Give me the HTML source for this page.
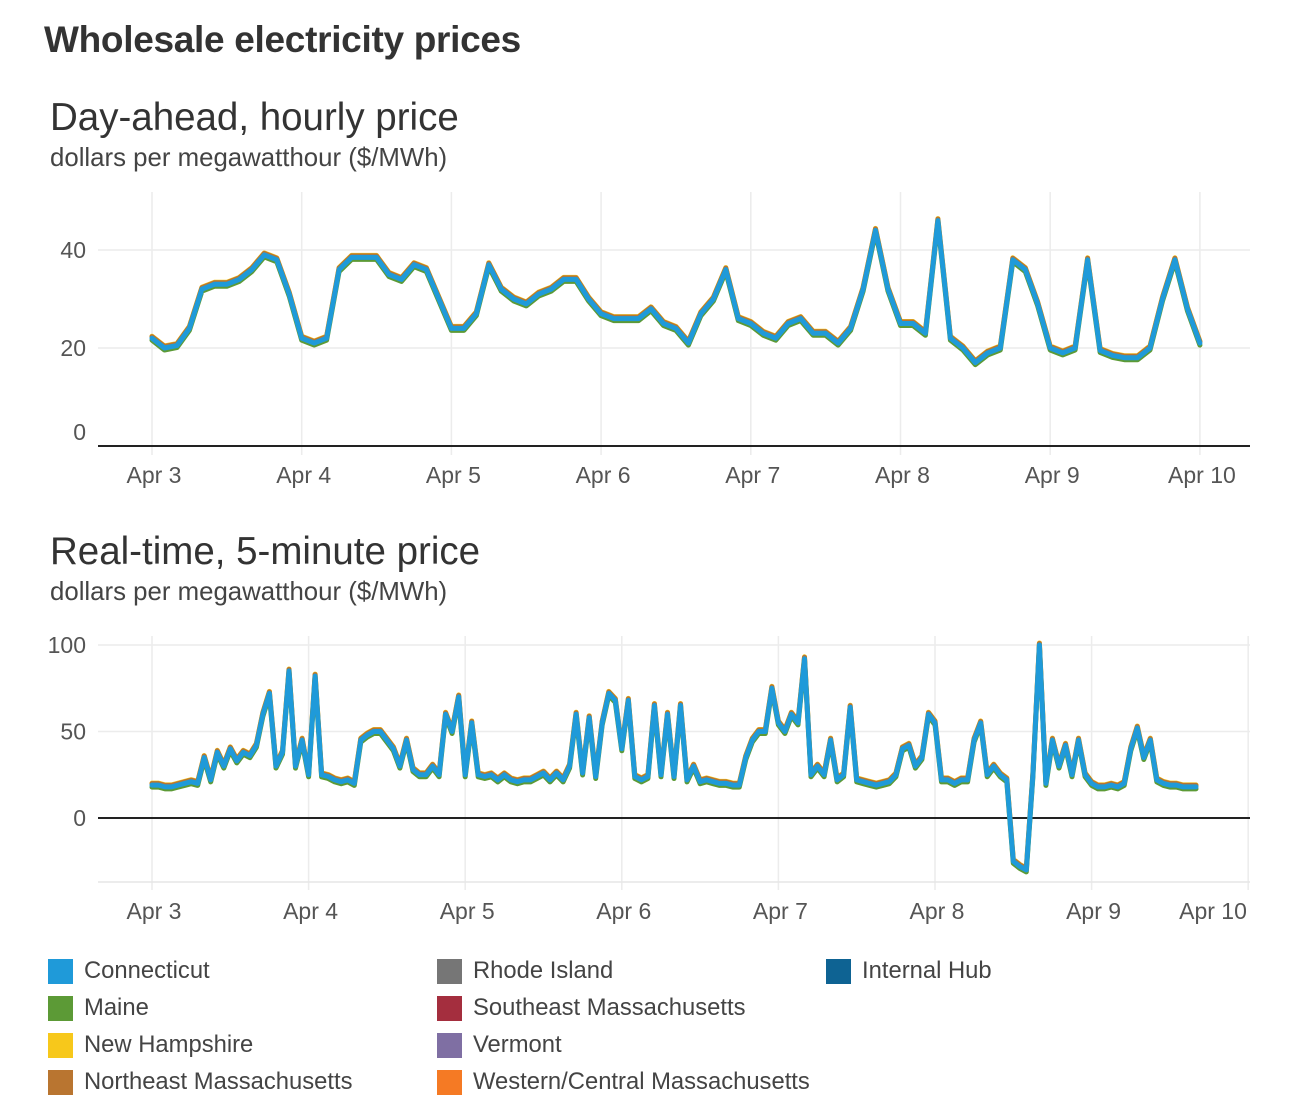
<!DOCTYPE html>
<html><head><meta charset="utf-8">
<style>
body{margin:0;background:#fff;font-family:"Liberation Sans",sans-serif;color:#333;}
#wrap{position:relative;width:1292px;height:1120px;overflow:hidden;}
.t{position:absolute;white-space:nowrap;}
</style></head>
<body>
<div id="wrap">
<div class="t" style="left:44px;top:19px;font-size:37px;font-weight:bold;color:#333;letter-spacing:-0.3px">Wholesale electricity prices</div>
<div class="t" style="left:50px;top:96px;font-size:38.5px;color:#333">Day-ahead, hourly price</div>
<div class="t" style="left:50px;top:144px;font-size:25.8px;color:#444">dollars per megawatthour ($/MWh)</div>
<div class="t" style="left:50px;top:530px;font-size:38.5px;color:#333">Real-time, 5-minute price</div>
<div class="t" style="left:50px;top:578px;font-size:25.8px;color:#444">dollars per megawatthour ($/MWh)</div>
<svg id="chart" width="1292" height="1120" style="position:absolute;left:0;top:0"></svg>
<div id="legend"></div>
</div>
<script>
// Day-ahead hourly (2-hour steps, Apr 3 00:00 .. Apr 10 00:00)
const daTicks = ["Apr 3","Apr 4","Apr 5","Apr 6","Apr 7","Apr 8","Apr 9","Apr 10"];
const daYTicks = [0,20,40];
const daCT = [22,20,20.5,24,32,33,33,34,36,39,38,31,
22,21,22,36,38.5,38.5,38.5,35,34,37,36,30,
24,24,27,37,32,30,29,31,32,34,34,30,
27,26,26,26,28,25,24,21,27,30,36,26,
25,23,22,25,26,23,23,21,24,32,44,32,
25,25,23,46,22,20,17,19,20,38,36,29,
20,19,20,38,19.5,18.5,18,18,20,30,38,28,
21];
// Real-time (hourly samples, Apr 3 00:00 .. Apr 9 16:00)
const rtTicks = ["Apr 3","Apr 4","Apr 5","Apr 6","Apr 7","Apr 8","Apr 9","Apr 10"];
const rtYTicks = [0,50,100];
const rtCT = [19,19,18,18,19,20,21,20,35,22,38,30,40,33,38,36,42,60,72,30,38,85,30,45,
25,82,25,24,22,21,22,20,45,48,50,50,45,40,30,45,28,25,25,30,25,60,50,70,
25,55,25,24,25,22,25,22,21,22,22,24,26,22,26,22,30,60,26,58,24,55,72,68,
40,68,24,22,24,65,25,60,24,65,22,30,21,22,21,20,20,19,19,35,45,50,50,75,
55,50,60,55,92,25,30,25,45,22,25,64,22,21,20,19,20,21,25,40,42,30,35,60,
55,22,22,20,22,22,45,55,25,30,25,22,-25,-28,-30,25,100,20,45,30,42,25,45,25,
20,18,18,19,18,20,40,52,35,45,22,20,19,19,18,18,18];
const legendNames = ["Connecticut","Maine","New Hampshire","Northeast Massachusetts","Rhode Island","Southeast Massachusetts","Vermont","Western/Central Massachusetts","Internal Hub"];
const legendColors = ["#1f9ad9","#5c9a36","#f7c81b","#b97530","#767676","#a42e3e","#7f6fa3","#f57a24","#0e6393"];

const NS="http://www.w3.org/2000/svg";
const svg=document.getElementById('chart');
function mk(tag,attrs,parent){const e=document.createElementNS(NS,tag);for(const k in attrs)e.setAttribute(k,attrs[k]);(parent||svg).appendChild(e);return e;}

function drawChart(cfg){
  const g=mk('g',{});
  
  
  const x=d=>cfg.x0+d*cfg.dayW;
  const y=v=>cfg.yZero-v*cfg.yScale;
  cfg.ticks.forEach((lab,i)=>{
    const l=mk('line',{x1:x(i),x2:x(i),y1:cfg.gTop,y2:cfg.gBot,stroke:'#ececec','stroke-width':1.5},g);
    
    
    const lx = (i===cfg.ticks.length-1 && cfg.lastLabX) ? cfg.lastLabX : x(i)+2;
    const t=mk('text',{x:lx,y:cfg.labY,'text-anchor':'middle','font-size':23,fill:'#555','font-family':'Liberation Sans, sans-serif'},g);
    t.textContent=lab;
    
    
  });
  cfg.yTicks.forEach(v=>{
    if(v!==0){
      const l=mk('line',{x1:98,x2:1250,y1:y(v),y2:y(v),stroke:'#ececec','stroke-width':1.5},g);
      
      
    }
    const t=mk('text',{x:86,y:y(v)+(v===0?cfg.zeroLabOff:8),'text-anchor':'end','font-size':23,fill:'#555','font-family':'Liberation Sans, sans-serif'},g);
    t.textContent=String(v);
    
    
  });
  if(cfg.bottomLine){
    const b=mk('line',{x1:98,x2:1250,y1:cfg.bottomLine,y2:cfg.bottomLine,stroke:'#e6e6e6','stroke-width':1.5},g);
    
    
  }
  const z=mk('line',{x1:98,x2:1250,y1:y(0),y2:y(0),stroke:'#222','stroke-width':2},g);
  
  
  const step=cfg.step;
  const pts=(off)=>cfg.data.map((v,i)=>x(i*step).toFixed(1)+','+(y(v)+off).toFixed(1)).join(' ');
  const layers=[['#f7c81b',-2],['#b97530',-1.5],['#5c9a36',2],['#1f9ad9',0]];
  const names=['series-new-hampshire','series-northeast-massachusetts','series-maine','series-connecticut'];
  layers.forEach((ly,k)=>{
    const p=mk('polyline',{points:pts(ly[1]),fill:'none',stroke:ly[0],'stroke-width':5,'stroke-linejoin':'round','stroke-linecap':'round'},g);
    
    
  });
}
drawChart({name:'day-ahead-chart',x0:152,dayW:149.7,yZero:446,yScale:4.9,gTop:192,gBot:455,labY:483,ticks:daTicks,yTicks:daYTicks,data:daCT,step:1/12,zeroLabOff:-6});
drawChart({name:'real-time-chart',x0:152,dayW:156.6,yZero:818,yScale:1.73,gTop:636,gBot:890,labY:919,ticks:rtTicks,yTicks:rtYTicks,data:rtCT,step:1/24,bottomLine:882,zeroLabOff:8,lastLabX:1213});

const leg=document.getElementById('legend');
legendNames.forEach((n,i)=>{
  const col=Math.floor(i/4), row=i%4;
  const d=document.createElement('div');
  d.className='t';
  d.style.left=(48+col*389)+'px';
  d.style.top=(957+row*37)+'px';
  d.style.fontSize='23.8px';
  d.style.color='#444';
  d.style.display='flex';
  d.style.alignItems='center';
  d.innerHTML='<span style="display:inline-block;width:25px;height:25px;background:'+legendColors[i]+';margin-right:11px"></span>'+n;
  
  
  leg.appendChild(d);
});
</script>
</body></html>
